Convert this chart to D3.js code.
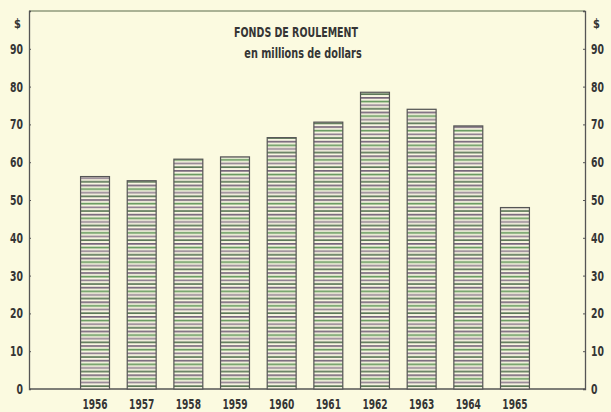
<!DOCTYPE html>
<html>
<head>
<meta charset="utf-8">
<script src="https://cdn.jsdelivr.net/npm/d3@7"></script>
<style>
  body { margin: 0; background: #fbfae0; }
  text { font-family: "DejaVu Sans Condensed", "DejaVu Sans", sans-serif; font-stretch: condensed; fill: #353535; font-weight: bold; }
</style>
</head>
<body>
<svg id="viz" width="611" height="412"></svg>
<script>
const years = ['1956', '1957', '1958', '1959', '1960', '1961', '1962', '1963', '1964', '1965']
const fonds = [56.2, 55.1, 60.8, 61.4, 66.5, 70.6, 78.5, 74, 69.6, 48]
const tick_values = [0, 10, 20, 30, 40, 50, 60, 70, 80, 90]

let svg = d3.select("#viz");
let width = parseInt(svg.attr("width"));
let height = parseInt(svg.attr("height"));

const x_left = 29, x_right = 585, y_top = 11, y_base = 389;

svg.append("rect").attr("width", width).attr("height", height).attr("fill", "#fbfae0");

// narrow printed lettering: squeeze the text horizontally
function narrow_text(parent, x, y, str, size, sx, anchor) {
    parent.append("g")
        .attr("transform", `translate(${x},${y}) scale(${sx},1)`)
        .append("text")
        .attr("text-anchor", anchor)
        .attr("font-size", size)
        .text(str);
}

// striped fill of the bars
let defs = svg.append("defs");
const stripe_cols = ['#76667a', '#62965a', '#908090', '#5a7656'];
const stripe_gap = 3.65;
let pat = defs.append("pattern")
    .attr("id", "stripes")
    .attr("patternUnits", "userSpaceOnUse")
    .attr("x", 0).attr("y", y_base)
    .attr("width", 10).attr("height", stripe_gap * stripe_cols.length);
pat.append("rect").attr("width", 10).attr("height", stripe_gap * stripe_cols.length).attr("fill", "#f8f6e2");
stripe_cols.forEach((c, i) => {
    pat.append("rect").attr("x", 0).attr("y", i * stripe_gap).attr("width", 10).attr("height", 1.7).attr("fill", c);
});

let y = d3.scaleLinear().domain([0, 100]).range([y_base, y_top]);
let x = d3.scaleBand().domain(years).range([71.7, 538.3]).paddingInner(0.38).paddingOuter(0.19);

// frame
svg.append("line").attr("x1", x_left).attr("x2", x_right).attr("y1", y_top).attr("y2", y_top)
    .attr("stroke", "#5b6b4a").attr("stroke-width", 1.2);
svg.append("line").attr("x1", x_left).attr("x2", x_right).attr("y1", y_base).attr("y2", y_base)
    .attr("stroke", "#555").attr("stroke-width", 1.3);

let yl = svg.append("g").attr("transform", `translate(${x_left},0)`)
    .call(d3.axisRight(y).tickValues(tick_values).tickSize(2).tickFormat(""));
let yr = svg.append("g").attr("transform", `translate(${x_right},0)`)
    .call(d3.axisLeft(y).tickValues(tick_values).tickSize(2).tickFormat(""));
[yl, yr].forEach(g => {
    g.select(".domain").attr("stroke", "#555").attr("stroke-width", 1.3);
    g.selectAll(".tick line").attr("stroke", "#555");
});

// tick labels
let labels = svg.append("g");
tick_values.forEach(d => {
    narrow_text(labels, 23, y(d) + 5, d, 14, 0.74, "end");
    narrow_text(labels, 591, y(d) + 5, d, 14, 0.74, "start");
});
narrow_text(labels, 14, 28, "$", 13, 0.85, "start");
narrow_text(labels, 593, 28, "$", 13, 0.85, "start");

// bars
svg.append("g").selectAll("rect").data(fonds).join("rect")
    .attr("x", (d, i) => x(years[i]))
    .attr("y", d => y(d))
    .attr("width", x.bandwidth())
    .attr("height", d => y_base - y(d))
    .attr("fill", "url(#stripes)")
    .attr("stroke", "#555")
    .attr("stroke-width", 1.2);

// year labels
let ylab = svg.append("g");
years.forEach(d => narrow_text(ylab, x(d) + x.bandwidth() / 2, 409, d, 14, 0.72, "middle"));

// title
narrow_text(svg, 296, 37, "FONDS DE ROULEMENT", 13.5, 0.78, "middle");
narrow_text(svg, 303, 58, "en millions de dollars", 13.5, 0.8, "middle");
</script>
</body>
</html>
